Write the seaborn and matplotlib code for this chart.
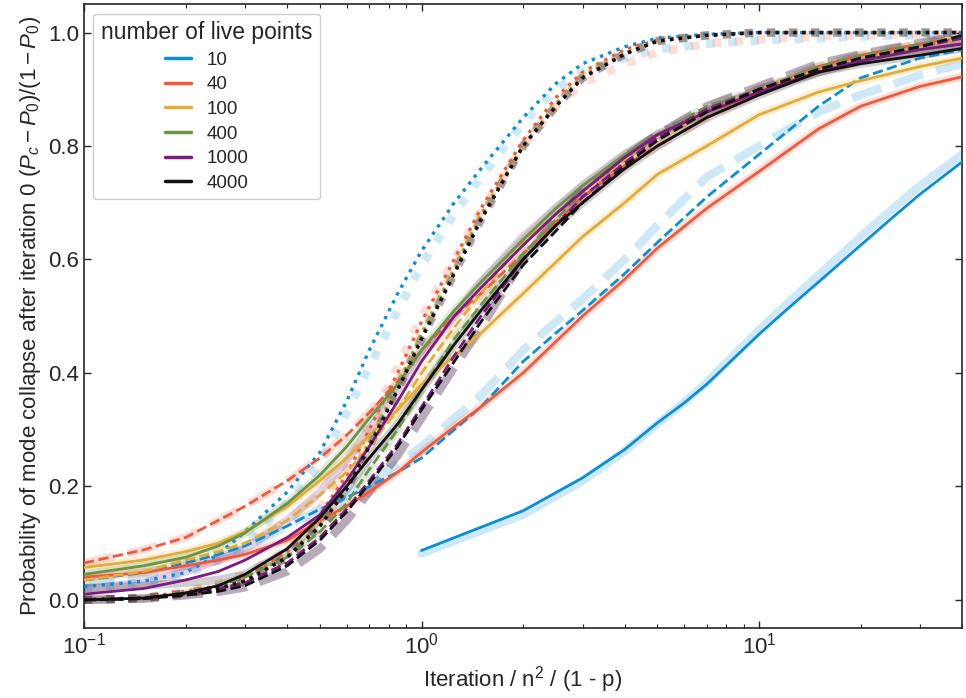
import numpy as np
import pandas as pd
import matplotlib
matplotlib.use("Agg")
import matplotlib.pyplot as plt
from matplotlib.lines import Line2D
import seaborn as sns

# number of live points and their colours
nlive = [10, 40, 100, 400, 1000, 4000]
colors = ["#0a8fd6", "#f2583a", "#e3ac35", "#6b9444", "#7c1a80", "#111111"]

# common x grid (iteration / n^2 / (1 - p))
xg = [0.1, 0.15, 0.2, 0.25, 0.3, 0.4, 0.5, 0.6, 0.7, 0.85, 1, 1.25, 1.5, 2, 2.5, 3, 4, 5, 7, 10, 15, 20, 30, 40]
# nlive = 10 solid curve only starts at 1
x10 = [1, 2, 3, 4, 5, 6, 7, 8, 10, 12, 15, 20, 25, 30, 40]

# solid curves
s10 = [0.087, 0.157, 0.215, 0.265, 0.312, 0.347, 0.38, 0.413, 0.468, 0.51, 0.56, 0.625, 0.675, 0.715, 0.772]
s40 = [0.04, 0.048, 0.06, 0.07, 0.08, 0.105, 0.14, 0.165, 0.19, 0.225, 0.26, 0.305, 0.34, 0.40, 0.455, 0.50, 0.565, 0.62, 0.69, 0.755, 0.83, 0.87, 0.905, 0.922]
s100 = [0.057, 0.07, 0.085, 0.1, 0.12, 0.165, 0.21, 0.25, 0.29, 0.335, 0.38, 0.43, 0.47, 0.54, 0.595, 0.64, 0.70, 0.75, 0.80, 0.855, 0.895, 0.915, 0.94, 0.955]
s400 = [0.045, 0.06, 0.075, 0.095, 0.118, 0.17, 0.22, 0.27, 0.32, 0.38, 0.44, 0.51, 0.56, 0.635, 0.69, 0.73, 0.785, 0.82, 0.86, 0.895, 0.93, 0.95, 0.97, 0.98]
s1000 = [0.01, 0.02, 0.035, 0.05, 0.07, 0.11, 0.15, 0.21, 0.27, 0.35, 0.42, 0.5, 0.55, 0.625, 0.68, 0.72, 0.78, 0.82, 0.86, 0.895, 0.93, 0.95, 0.97, 0.98]
s4000 = [0.0, 0.003, 0.012, 0.025, 0.045, 0.09, 0.145, 0.2, 0.25, 0.31, 0.37, 0.45, 0.51, 0.6, 0.66, 0.7, 0.76, 0.8, 0.85, 0.89, 0.93, 0.945, 0.96, 0.972]

# dashed curves
d10 = [0.035, 0.048, 0.065, 0.08, 0.095, 0.13, 0.16, 0.18, 0.2, 0.225, 0.25, 0.3, 0.34, 0.42, 0.47, 0.51, 0.575, 0.63, 0.71, 0.785, 0.87, 0.92, 0.955, 0.97]
d40 = [0.065, 0.088, 0.11, 0.14, 0.165, 0.21, 0.25, 0.29, 0.33, 0.385, 0.44, 0.5, 0.54, 0.61, 0.665, 0.71, 0.765, 0.8, 0.85, 0.895, 0.94, 0.96, 0.98, 0.99]
d100 = [0.035, 0.05, 0.07, 0.085, 0.1, 0.14, 0.185, 0.225, 0.27, 0.335, 0.4, 0.48, 0.54, 0.63, 0.68, 0.72, 0.775, 0.81, 0.86, 0.9, 0.935, 0.955, 0.975, 0.99]
d400 = [0.0, 0.003, 0.012, 0.025, 0.04, 0.075, 0.12, 0.17, 0.23, 0.3, 0.37, 0.46, 0.52, 0.61, 0.67, 0.72, 0.78, 0.82, 0.87, 0.9, 0.94, 0.96, 0.98, 0.99]
d1000 = [0.0, 0.002, 0.01, 0.02, 0.03, 0.065, 0.11, 0.16, 0.21, 0.275, 0.34, 0.43, 0.5, 0.6, 0.66, 0.71, 0.77, 0.815, 0.865, 0.9, 0.935, 0.955, 0.975, 0.99]
d4000 = [0.0, 0.002, 0.008, 0.015, 0.025, 0.06, 0.105, 0.155, 0.205, 0.27, 0.335, 0.42, 0.49, 0.59, 0.65, 0.7, 0.765, 0.81, 0.86, 0.9, 0.935, 0.955, 0.975, 0.995]

# dotted curves
o10 = [0.023, 0.033, 0.048, 0.08, 0.12, 0.19, 0.26, 0.35, 0.44, 0.54, 0.615, 0.7, 0.76, 0.85, 0.91, 0.945, 0.975, 0.99, 0.997, 1.0, 1.0, 1.0, 1.0, 1.0]
o40 = [0.0, 0.004, 0.015, 0.025, 0.04, 0.085, 0.15, 0.22, 0.3, 0.4, 0.49, 0.6, 0.69, 0.81, 0.885, 0.93, 0.97, 0.987, 0.996, 1.0, 1.0, 1.0, 1.0, 1.0]
o100 = [0.0, 0.003, 0.012, 0.022, 0.036, 0.078, 0.135, 0.2, 0.28, 0.38, 0.47, 0.585, 0.68, 0.8, 0.875, 0.925, 0.965, 0.985, 0.995, 1.0, 1.0, 1.0, 1.0, 1.0]
o400 = [0.0, 0.003, 0.012, 0.021, 0.035, 0.077, 0.133, 0.2, 0.275, 0.375, 0.465, 0.58, 0.675, 0.8, 0.87, 0.922, 0.963, 0.985, 0.995, 1.0, 1.0, 1.0, 1.0, 1.0]
o1000 = [0.0, 0.003, 0.011, 0.02, 0.033, 0.075, 0.13, 0.195, 0.27, 0.37, 0.46, 0.575, 0.67, 0.8, 0.87, 0.92, 0.962, 0.985, 0.995, 1.0, 1.0, 1.0, 1.0, 1.0]
o4000 = [0.0, 0.003, 0.011, 0.02, 0.033, 0.075, 0.13, 0.195, 0.27, 0.37, 0.46, 0.575, 0.67, 0.8, 0.87, 0.92, 0.962, 0.985, 0.995, 1.0, 1.0, 1.0, 1.0, 1.0]

# thick faint curves (predictions) where they differ from the measured ones
t_s10 = [0.082, 0.15, 0.21, 0.262, 0.31, 0.348, 0.383, 0.418, 0.475, 0.52, 0.572, 0.64, 0.69, 0.73, 0.785]
t_s1000 = [0.02, 0.03, 0.05, 0.07, 0.09, 0.14, 0.19, 0.245, 0.3, 0.37, 0.43, 0.5, 0.56, 0.64, 0.69, 0.73, 0.785, 0.82, 0.86, 0.9, 0.93, 0.95, 0.97, 0.98]
t_s4000 = [0.02, 0.025, 0.03, 0.035, 0.045, 0.085, 0.14, 0.195, 0.25, 0.31, 0.37, 0.45, 0.51, 0.6, 0.66, 0.7, 0.76, 0.8, 0.85, 0.89, 0.93, 0.945, 0.96, 0.972]
t_d10 = [0.03, 0.045, 0.06, 0.075, 0.09, 0.13, 0.16, 0.185, 0.21, 0.24, 0.27, 0.32, 0.36, 0.44, 0.49, 0.53, 0.6, 0.66, 0.745, 0.8, 0.86, 0.89, 0.925, 0.945]
t_d4000 = [0.0, 0.002, 0.008, 0.014, 0.022, 0.05, 0.09, 0.14, 0.19, 0.255, 0.32, 0.41, 0.48, 0.6, 0.67, 0.72, 0.78, 0.82, 0.87, 0.905, 0.945, 0.962, 0.982, 0.995]
t_o10 = [0.02, 0.03, 0.045, 0.07, 0.1, 0.17, 0.24, 0.33, 0.41, 0.51, 0.59, 0.68, 0.745, 0.84, 0.9, 0.93, 0.955, 0.97, 0.98, 0.986, 0.99, 0.993, 0.995, 0.997]
t_o40 = [0.0, 0.004, 0.015, 0.028, 0.045, 0.09, 0.16, 0.23, 0.31, 0.41, 0.5, 0.6, 0.685, 0.8, 0.87, 0.91, 0.945, 0.965, 0.98, 0.988, 0.993, 0.995, 0.997, 0.998]

solid = [s10, s40, s100, s400, s1000, s4000]
dashed = [d10, d40, d100, d400, d1000, d4000]
dotted = [o10, o40, o100, o400, o1000, o4000]
thick_solid = [t_s10, s40, s100, s400, t_s1000, t_s4000]
thick_dashed = [t_d10, d40, d100, d400, t_d4000, t_d4000]
thick_dotted = [t_o10, t_o40, o100, o400, o1000, o4000]

sns.set_style("ticks")
plt.rcParams["font.family"] = ["Liberation Sans", "DejaVu Sans"]
plt.rcParams["mathtext.fontset"] = "custom"
plt.rcParams["mathtext.rm"] = "Liberation Sans"
plt.rcParams["mathtext.it"] = "Liberation Sans:italic"
plt.rcParams["mathtext.bf"] = "Liberation Sans:bold"

fig = plt.figure(figsize=(9.66, 6.98), dpi=100)
ax = fig.add_axes([0.087, 0.1, 0.909, 0.894])


def draw(xs, ys, color, ls, lw, alpha, z):
    df = pd.DataFrame({"x": xs, "y": ys})
    sns.lineplot(data=df, x="x", y="y", ax=ax, color=color, linestyle=ls,
                 linewidth=lw, alpha=alpha, estimator=None, sort=False, zorder=z)


# faint thick lines first
for i, c in enumerate(colors):
    xs = x10 if i == 0 else xg
    draw(xs, thick_solid[i], c, "-", 6, 0.2, 1)
    draw(xg, thick_dashed[i], c, "--", 6, 0.2, 1)
    draw(xg, thick_dotted[i], c, ":", 6, 0.2, 1)

# measured lines on top
for i, c in enumerate(colors):
    xs = x10 if i == 0 else xg
    draw(xs, solid[i], c, "-", 2, 1, 3)
    draw(xg, dashed[i], c, "--", 2, 1, 3)
    draw(xg, dotted[i], c, ":", 2.4, 1, 3)

ax.set_xscale("log")
ax.set_xlim(0.1, 40)
ax.set_ylim(-0.05, 1.05)
ax.set_yticks([0.0, 0.2, 0.4, 0.6, 0.8, 1.0])
ax.set_xlabel("Iteration / n$^2$ / (1 - p)", fontsize=16)
ax.set_ylabel("Probability of mode collapse after iteration 0 $(P_c - P_0)/(1 - P_0)$", fontsize=16)
ax.tick_params(which="both", direction="in", top=True, right=True, labelsize=16)
ax.tick_params(which="major", length=5, width=1)
ax.tick_params(which="minor", length=3, width=0.8)
for sp in ax.spines.values():
    sp.set_linewidth(1.2)

handles = [Line2D([], [], color=c, lw=2.5) for c in colors]
leg = ax.legend(handles, [str(n) for n in nlive], title="number of live points",
                loc="upper left", fontsize=13.5, title_fontsize=16.5, handlelength=1.4,
                labelspacing=0.4, frameon=True, fancybox=True, edgecolor="#cccccc",
                framealpha=1, borderaxespad=0.5)

fig.savefig("out.png", dpi=100)
